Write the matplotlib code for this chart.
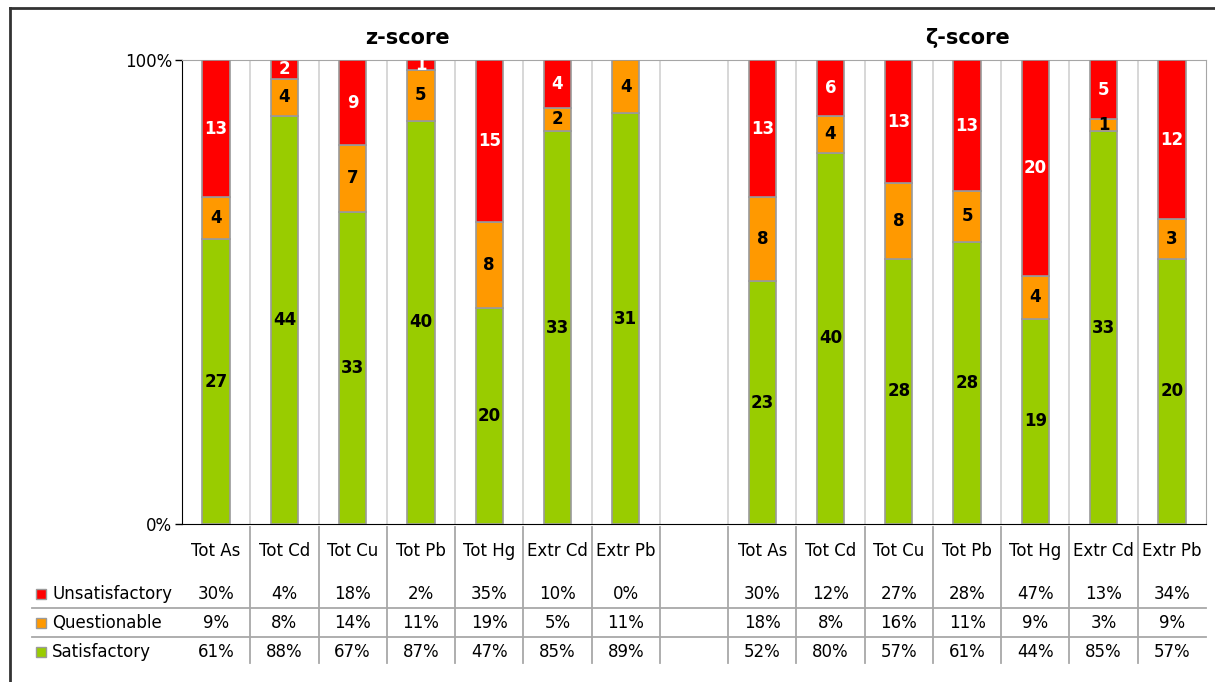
import matplotlib
matplotlib.use('Agg')
import matplotlib.pyplot as plt
from matplotlib.transforms import blended_transform_factory
from matplotlib.lines import Line2D
from matplotlib.patches import Rectangle

categories = ['Tot As', 'Tot Cd', 'Tot Cu', 'Tot Pb', 'Tot Hg', 'Extr Cd', 'Extr Pb']
groups = ['z-score', 'ζ-score']
series = ['Unsatisfactory', 'Questionable', 'Satisfactory']
colors = ['#FF0000', '#FF9900', '#99CC00']

z_unsat = [13, 2, 9, 1, 15, 4, 0]
z_quest = [4, 4, 7, 5, 8, 2, 4]
z_sat = [27, 44, 33, 40, 20, 33, 31]
zeta_unsat = [13, 6, 13, 13, 20, 5, 12]
zeta_quest = [8, 4, 8, 5, 4, 1, 3]
zeta_sat = [23, 40, 28, 28, 19, 33, 20]

z_unsat_pct = ['30%', '4%', '18%', '2%', '35%', '10%', '0%']
z_quest_pct = ['9%', '8%', '14%', '11%', '19%', '5%', '11%']
z_sat_pct = ['61%', '88%', '67%', '87%', '47%', '85%', '89%']
zeta_unsat_pct = ['30%', '12%', '27%', '28%', '47%', '13%', '34%']
zeta_quest_pct = ['18%', '8%', '16%', '11%', '9%', '3%', '9%']
zeta_sat_pct = ['52%', '80%', '57%', '61%', '44%', '85%', '57%']

plt.rcParams['font.family'] = ['DejaVu Sans']

fig = plt.figure(figsize=(12.15, 6.82), dpi=100)
W, H = 1215, 682
L, R, T, B = 182, 1206, 60, 524
ax = fig.add_axes([L / W, 1 - B / H, (R - L) / W, (B - T) / H])

xpos = list(range(7)) + list(range(8, 15))
unsat = z_unsat + zeta_unsat
quest = z_quest + zeta_quest
sat = z_sat + zeta_sat
labels = categories + categories
pct_rows = [z_unsat_pct + zeta_unsat_pct,
            z_quest_pct + zeta_quest_pct,
            z_sat_pct + zeta_sat_pct]

fs = 12
bw = 0.4
edge = '#9a9a9a'
for i, x in enumerate(xpos):
    tot = unsat[i] + quest[i] + sat[i]
    vals = [sat[i], quest[i], unsat[i]]
    cols = [colors[2], colors[1], colors[0]]
    tcols = ['black', 'black', 'white']
    bottom = 0.0
    for v, c, tc in zip(vals, cols, tcols):
        h = v / tot
        if v > 0:
            ax.bar(x, h, bw, bottom=bottom, color=c, edgecolor=edge,
                   linewidth=1.2, zorder=3)
            ax.text(x, bottom + h / 2, str(v), ha='center', va='center',
                    color=tc, fontsize=12, fontweight='bold', zorder=4,
                    clip_on=True)
        bottom += h

ax.set_xlim(-0.5, 14.5)
ax.set_ylim(0, 1)
ax.set_yticks([0, 1])
ax.set_yticklabels(['0%', '100%'], fontsize=fs)
ax.set_xticks([])
for k in range(1, 15):
    ax.axvline(k - 0.5, color='#d4d4d4', linewidth=1.3, zorder=1)
ax.spines['top'].set_color('#a6a6a6')
ax.spines['right'].set_color('#a6a6a6')
ax.spines['left'].set_color('black')
ax.spines['bottom'].set_color('black')
ax.tick_params(axis='y', length=5, width=1, pad=2)

# Titles
fig.text(407 / W, 1 - 38 / H, groups[0], ha='center', va='center',
         fontsize=15, fontweight='bold')
fig.text(968 / W, 1 - 38 / H, groups[1], ha='center', va='center',
         fontsize=15, fontweight='bold')

# Data table
trans = blended_transform_factory(ax.transData, fig.transFigure)
y_head = 1 - 551 / H
y_rows = [1 - 594 / H, 1 - 623 / H, 1 - 652 / H]
for i, x in enumerate(xpos):
    ax.text(x, y_head, labels[i], transform=trans, ha='center', va='center',
            fontsize=fs, clip_on=False)
    for r in range(3):
        ax.text(x, y_rows[r], pct_rows[r][i], transform=trans, ha='center',
                va='center', fontsize=fs, clip_on=False)

for k in range(1, 15):
    fig.add_artist(Line2D([k - 0.5, k - 0.5], [1 - 527 / H, 1 - 663 / H],
                          color='#a8a8a8', linewidth=1.3, transform=trans))

for yy in [608, 637]:
    fig.add_artist(Line2D([32 / W, R / W], [1 - yy / H, 1 - yy / H],
                          color='#a8a8a8', linewidth=1.3,
                          transform=fig.transFigure))

for r in range(3):
    fig.text(52 / W, y_rows[r], series[r], ha='left', va='center', fontsize=fs)
    fig.add_artist(Rectangle((36 / W, y_rows[r] - 5 / H), 10 / W, 10 / H,
                             facecolor=colors[r], edgecolor='#9a9a9a',
                             linewidth=1.0, transform=fig.transFigure))

# Outer border
fig.add_artist(Line2D([10 / W, 10 / W], [0, 1 - 8 / H], color='#333333',
                      linewidth=2, transform=fig.transFigure))
fig.add_artist(Line2D([10 / W, 1], [1 - 8 / H, 1 - 8 / H], color='#333333',
                      linewidth=2, transform=fig.transFigure))

fig.savefig('out.png', dpi=100)
